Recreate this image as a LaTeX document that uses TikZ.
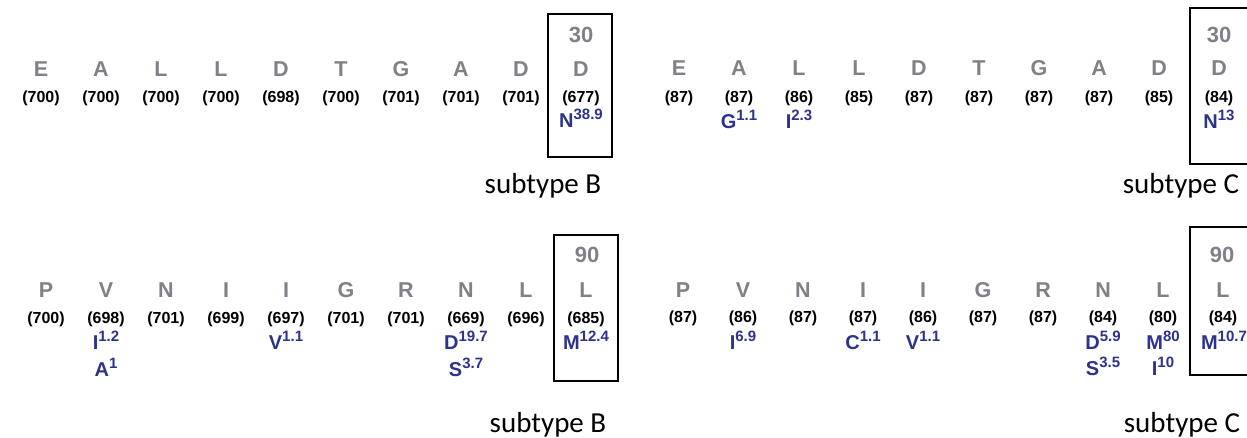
\documentclass[tikz,border=0pt]{standalone}
\usepackage{fontspec}
\setmainfont{Liberation Sans}
\newfontfamily\subfont{Carlito}
\definecolor{resgray}{RGB}{128,128,136}
\definecolor{mutblue}{RGB}{45,50,140}
\newcommand\mut[2]{#1\raisebox{0.40em}{\fontsize{15}{15}\selectfont #2}}
\begin{document}
\begin{tikzpicture}[x=1pt,y=-1pt,
  resletter/.style={inner sep=0pt,text=resgray,font=\fontsize{21.5}{21.5}\selectfont\bfseries},
  posnum/.style={inner sep=0pt,text=resgray,font=\fontsize{22}{22}\selectfont\bfseries},
  cntnum/.style={inner sep=0pt,text=black,font=\fontsize{16}{16}\selectfont\bfseries},
  mutn/.style={inner sep=0pt,text=mutblue,font=\fontsize{20}{20}\selectfont\bfseries},
  selbox/.style={draw=black,line width=2pt,inner sep=0pt},
  subtitle/.style={inner sep=0pt,anchor=base,font=\fontsize{29}{29}\subfont}]
\useasboundingbox[fill=white] (0,0) rectangle (1247,438);
% ---------- top left (subtype B) ----------
\node[selbox,minimum width=64pt,minimum height=143pt] (tlbox) at (580,85.5) {};
\foreach \L [count=\i] in {E,A,L,L,D,T,G,A,D,D}
  \node[resletter] (tlL\i) at ({41+60*(\i-1)},69) {\L};
\foreach \C [count=\i] in {700,700,700,700,698,700,701,701,701,677}
  \node[cntnum] (tlC\i) at ({41+60*(\i-1)},98) {(\C)};
\node[posnum] (tlP) at (581,35) {30};
\node[mutn] (tlM10) at (581,118) {\mut{N}{38.9}};
\node[subtitle] (tlS) at (543,194) {subtype B};
% ---------- top right (subtype C) ----------
\node[selbox,minimum width=58pt,minimum height=156pt] (trbox) at (1219,86) {};
\foreach \L [count=\i] in {E,A,L,L,D,T,G,A,D,D}
  \node[resletter] (trL\i) at ({679+60*(\i-1)},68) {\L};
\foreach \C [count=\i] in {87,87,86,85,87,87,87,87,85,84}
  \node[cntnum] (trC\i) at ({679+60*(\i-1)},98) {(\C)};
\node[posnum] (trP) at (1219,35) {30};
\node[mutn] (trM2) at (739,119) {\mut{G}{1.1}};
\node[mutn] (trM3) at (799,119) {\mut{I}{2.3}};
\node[mutn] (trM10) at (1219,119) {\mut{N}{13}};
\node[subtitle] (trS) at (1181,194) {subtype C};
% ---------- bottom left (subtype B) ----------
\node[selbox,minimum width=64pt,minimum height=146pt] (blbox) at (586,308) {};
\foreach \L [count=\i] in {P,V,N,I,I,G,R,N,L,L}
  \node[resletter] (blL\i) at ({46+60*(\i-1)},290) {\L};
\foreach \C [count=\i] in {700,698,701,699,697,701,701,669,696,685}
  \node[cntnum] (blC\i) at ({46+60*(\i-1)},319) {(\C)};
\node[posnum] (blP) at (587,255) {90};
\node[mutn] (blM2a) at (106,340) {\mut{I}{1.2}};
\node[mutn] (blM2b) at (106,367) {\mut{A}{1}};
\node[mutn] (blM5) at (286,340) {\mut{V}{1.1}};
\node[mutn] (blM8a) at (466,340) {\mut{D}{19.7}};
\node[mutn] (blM8b) at (466,367) {\mut{S}{3.7}};
\node[mutn] (blM10) at (586,340) {\mut{M}{12.4}};
\node[subtitle] (blS) at (548,432) {subtype B};
% ---------- bottom right (subtype C) ----------
\node[selbox,minimum width=58pt,minimum height=148pt] (brbox) at (1219,301) {};
\foreach \L [count=\i] in {P,V,N,I,I,G,R,N,L,L}
  \node[resletter] (brL\i) at ({683+60*(\i-1)},290) {\L};
\foreach \C [count=\i] in {87,86,87,87,86,87,87,84,80,84}
  \node[cntnum] (brC\i) at ({683+60*(\i-1)},318) {(\C)};
\node[posnum] (brP) at (1222,255) {90};
\node[mutn] (brM2) at (743,340) {\mut{I}{6.9}};
\node[mutn] (brM4) at (863,340) {\mut{C}{1.1}};
\node[mutn] (brM5) at (923,340) {\mut{V}{1.1}};
\node[mutn] (brM8a) at (1103,340) {\mut{D}{5.9}};
\node[mutn] (brM8b) at (1103,366) {\mut{S}{3.5}};
\node[mutn] (brM9a) at (1163,340) {\mut{M}{80}};
\node[mutn] (brM9b) at (1163,366) {\mut{I}{10}};
\node[mutn] (brM10) at (1224,340) {\mut{M}{10.7}};
\node[subtitle] (brS) at (1182,432) {subtype C};
\end{tikzpicture}
\end{document}
